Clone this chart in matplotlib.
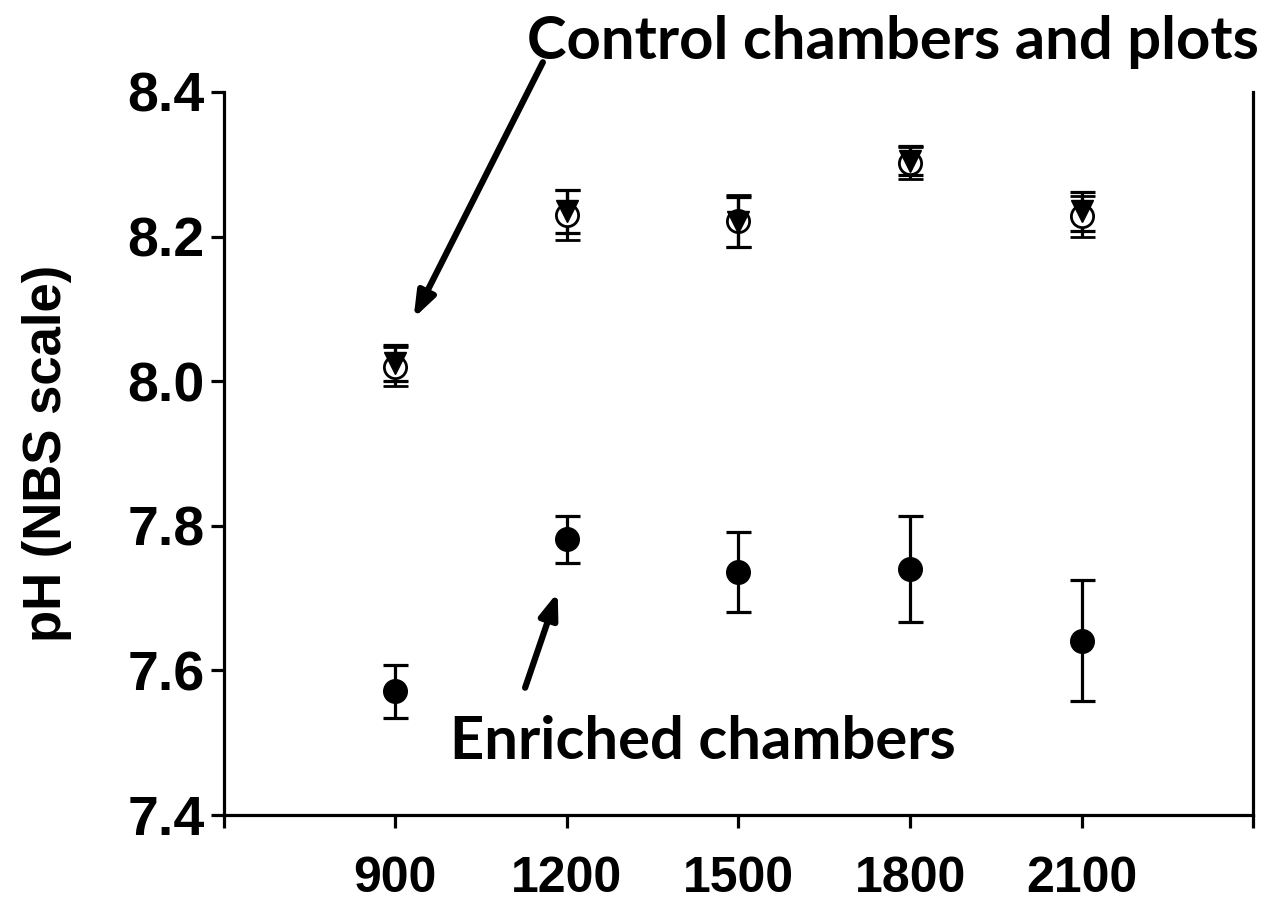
import numpy as np
import matplotlib.pyplot as plt

# pCO2 levels (x) and mean pH with standard errors
levels = [900, 1200, 1500, 1800, 2100]

enriched = [7.571, 7.781, 7.736, 7.740, 7.641]
enriched_err = [0.037, 0.033, 0.056, 0.073, 0.084]

control_chamber = [8.020, 8.230, 8.222, 8.302, 8.228]
control_chamber_err = [0.027, 0.035, 0.036, 0.022, 0.028]

control_plot = [8.025, 8.235, 8.220, 8.305, 8.235]
control_plot_err = [0.025, 0.030, 0.035, 0.020, 0.027]

plt.rcParams['font.family'] = ['Liberation Sans', 'DejaVu Sans']
plt.rcParams['font.weight'] = 'bold'

fig = plt.figure(figsize=(12.71, 9.01), dpi=100)
ax = fig.add_axes([0.176, 0.0955, 0.810, 0.8025])

ebkw = dict(ecolor='black', elinewidth=2.3, capsize=9, capthick=2.3, linestyle='none')

ax.errorbar(levels, control_chamber, yerr=control_chamber_err, marker='o', ms=16,
            mfc='white', mec='black', mew=2, **ebkw)
ax.errorbar(levels, control_plot, yerr=control_plot_err, marker='v', ms=16,
            mfc='black', mec='black', **ebkw)
ax.errorbar(levels, enriched, yerr=enriched_err, marker='o', ms=17,
            mfc='black', mec='black', **ebkw)

ax.set_xlim(600, 2400)
ax.set_ylim(7.4, 8.4)
ax.set_xticks(np.arange(600, 2401, 300))
ax.set_xticklabels([''] + [str(v) for v in levels] + [''])
ax.set_yticks(np.arange(7.4, 8.41, 0.2))
ax.set_yticklabels(['%.1f' % v for v in np.arange(7.4, 8.41, 0.2)])

ax.spines['top'].set_visible(False)
for side in ['left', 'bottom', 'right']:
    ax.spines[side].set_linewidth(2.3)
ax.tick_params(axis='both', direction='out', length=9.5, width=2.3)
ax.tick_params(axis='x', pad=20, labelsize=36)
ax.tick_params(axis='y', pad=4, labelsize=40)

ax.set_ylabel('pH (NBS scale)', fontsize=38, fontweight='bold', labelpad=40)

arrow = dict(arrowstyle='-|>,head_length=1.5,head_width=0.55', color='black', lw=4.5,
             shrinkA=0, shrinkB=0)
ax.annotate('', xy=(932, 8.087), xytext=(1158, 8.441), arrowprops=arrow, annotation_clip=False)
ax.annotate('', xy=(1184, 7.708), xytext=(1127, 7.576), arrowprops=arrow, annotation_clip=False)

ax.text(1770, 8.469, 'Control chambers and plots', fontsize=43, fontweight='bold',
        family=['Lato', 'DejaVu Sans'], ha='center', va='center', clip_on=False)
ax.text(1438, 7.501, 'Enriched chambers', fontsize=43, fontweight='bold',
        family=['Lato', 'DejaVu Sans'], ha='center', va='center')

fig.savefig('out.png', dpi=100)
